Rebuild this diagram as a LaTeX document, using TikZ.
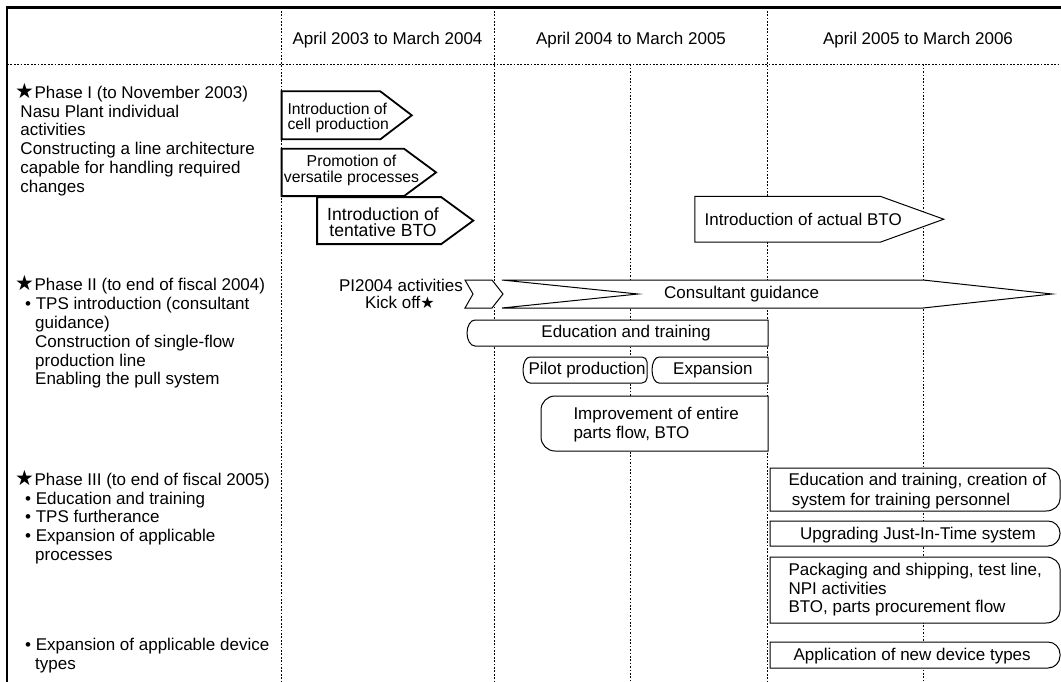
\documentclass[tikz,border=0pt]{standalone}
\usepackage{fontspec}
\setmainfont{Liberation Sans}
\newfontfamily\symfont{DejaVu Sans}
% black stars: large one for the phase headings, small one after "Kick off"
\newcommand\bstar{{\symfont\fontsize{21}{21}\selectfont ★}}
\newcommand\sstar{{\symfont\fontsize{16}{16}\selectfont ★}}
% first-line strut: fixes the distance from a block's top to its first baseline
\newcommand\fl{\rule{0pt}{14pt}}
\lineskiplimit=-100pt
\normallineskiplimit=-100pt

\tikzset{
  txt/.style={inner sep=0pt, text=black, font=\fontsize{17}{18.8}\selectfont},
  blk/.style={txt, align=left, anchor=north west},
  cblk/.style={txt, align=center, anchor=north},
  gridline/.style={line width=0.9pt, dash pattern=on 1.7pt off 1.7pt, black},
  framepen/.style={line width=2.6pt, line join=miter},
  heavybox/.style={draw, line width=1.8pt, fill=white, line join=miter},
  lightbox/.style={draw, line width=1pt, fill=white, line join=miter},
}

\begin{document}
\begin{tikzpicture}[x=1pt, y=-1pt]
\useasboundingbox (0,0) rectangle (1061,681);

% ---- table grid ----
\draw[gridline] (7,64.3) -- (1061,64.3);
\draw[gridline] (281.6,7.4) -- (281.6,681);
\draw[gridline] (494,7.4) -- (494,681);
\draw[gridline] (767,7.4) -- (767,681);
\draw[gridline] (630,64.3) -- (630,681);
\draw[gridline] (923.5,64.3) -- (923.5,681);
\draw[framepen] (1063,7.4) -- (7,7.4) -- (7,683);

% ---- column headings ----
\node[txt, anchor=base] (h1) at (387.5,44.5) {April 2003 to March 2004};
\node[txt, anchor=base] (h2) at (631,44.5) {April 2004 to March 2005};
\node[txt, anchor=base] (h3) at (918,44.5) {April 2005 to March 2006};

% ---- phase descriptions ----
\node[blk] (ph1) at (15,83) {\fl\bstar\kern0.5pt Phase I (to November 2003)\\
  \hspace*{5.3pt}Nasu Plant individual\\
  \hspace*{5.3pt}activities\\
  \hspace*{5.3pt}Constructing a line architecture\\
  \hspace*{5.3pt}capable for handling required\\
  \hspace*{5.3pt}changes};

\node[blk] (ph2) at (15,275.5) {\fl\bstar\kern0.5pt Phase II (to end of fiscal 2004)\\
  \hspace*{10pt}\textbullet\ TPS introduction (consultant\\
  \hspace*{20pt}guidance)\\
  \hspace*{20pt}Construction of single-flow\\
  \hspace*{20pt}production line\\
  \hspace*{20pt}Enabling the pull system};

\node[blk, font=\fontsize{17}{18.75}\selectfont] (ph3) at (15,470) {\fl\bstar\kern0.5pt Phase III (to end of fiscal 2005)\\
  \hspace*{10pt}\textbullet\ Education and training\\
  \hspace*{10pt}\textbullet\ TPS furtherance\\
  \hspace*{10pt}\textbullet\ Expansion of applicable\\
  \hspace*{20pt}processes};

\node[blk] (ph3d) at (15,636.5) {\fl\hspace*{10pt}\textbullet\ Expansion of applicable device\\
  \hspace*{20pt}types};

% ---- Phase I activities ----
\draw[heavybox] (281.6,91.3) -- (380.3,91.3) -- (411.8,115.3) -- (380.3,139.3) -- (281.6,139.3) -- cycle;
\node[blk, font=\fontsize{15.7}{15.2}\selectfont] (cell) at (287.4,100.3) {\fl Introduction of\\cell production};

\draw[heavybox] (281.6,148.7) -- (404,148.7) -- (436.1,172.4) -- (404,196.1) -- (281.6,196.1) -- cycle;
\node[cblk, font=\fontsize{15.8}{16.3}\selectfont] (versatile) at (351.5,152.3) {\fl Promotion of\\versatile processes};

\draw[heavybox] (317.1,197.1) -- (441.2,197.1) -- (473.3,220.6) -- (441.2,244.1) -- (317.1,244.1) -- cycle;
\node[cblk, font=\fontsize{17.6}{16.2}\selectfont] (tentative) at (383,206.4) {\fl Introduction of\\tentative BTO};

\draw[lightbox] (694.9,196.4) -- (880.5,196.4) -- (943.8,219.2) -- (880.5,242.1) -- (694.9,242.1) -- cycle;
\node[txt, anchor=base west] (actual) at (704.4,225) {Introduction of actual BTO};

% ---- Phase II activities ----
\node[txt, anchor=base east] (pi2004) at (463,291.7) {PI2004 activities};
\node[txt, anchor=base east] (kick) at (435,308.7) {Kick off\sstar};
\draw[lightbox] (465,280) -- (492,280) -- (503,294) -- (492,308) -- (465,308) -- (473,294) -- cycle;
\draw[lightbox] (502,280) -- (923,280) -- (1052,294) -- (923,308) -- (502,308) -- (638,294) -- cycle;
\node[txt, anchor=base west] (consult) at (664,298.7) {Consultant guidance};

\draw[lightbox] (768,320) -- (475,320) .. controls (470.6,320) and (467,325.8) .. (467,333)
  .. controls (467,340.2) and (470.6,346) .. (475,346) -- (768,346) -- cycle;
\node[txt, anchor=base] (edu2) at (626,337.4) {Education and training};

\draw[lightbox] (530,357) -- (642,357) .. controls (644.8,357) and (647,359.2) .. (647,362)
  -- (647,378) .. controls (647,380.8) and (644.8,383) .. (642,383) -- (530,383)
  .. controls (526.1,383) and (523,377.2) .. (523,370) .. controls (523,362.8) and (526.1,357) .. (530,357) -- cycle;
\node[txt, anchor=base west] (pilot) at (528.3,374.5) {Pilot production};

\draw[lightbox] (659,357) -- (768,357) -- (768,383) -- (659,383)
  .. controls (655.1,383) and (652,377.2) .. (652,370) .. controls (652,362.8) and (655.1,357) .. (659,357) -- cycle;
\node[txt, anchor=base west] (expand) at (673,374.5) {Expansion};

\draw[lightbox] (768,396) -- (555,396) .. controls (547.3,396) and (541,402.3) .. (541,410)
  -- (541,437) .. controls (541,444.7) and (547.3,451) .. (555,451) -- (768,451) -- cycle;
\node[blk, font=\fontsize{17}{19}\selectfont] (improve) at (573.3,405.3) {\fl Improvement of entire\\parts flow, BTO};

% ---- Phase III activities ----
\draw[lightbox] (770,468) -- (1046,468) .. controls (1053.7,468) and (1060,473.4) .. (1060,480)
  -- (1060,499) .. controls (1060,505.6) and (1053.7,511) .. (1046,511) -- (770,511) -- cycle;
\node[blk, font=\fontsize{17}{20}\selectfont] (p3a) at (788.3,471) {\fl Education and training, creation of\\
  \hspace*{3.4pt}system for training personnel};

\draw[lightbox] (770,521) -- (1048,521) .. controls (1054.6,521) and (1060,526.4) .. (1060,533)
  -- (1060,534) .. controls (1060,540.6) and (1054.6,546) .. (1048,546) -- (770,546) -- cycle;
\node[txt, anchor=base west] (p3b) at (800,539.7) {Upgrading Just-In-Time system};

\draw[lightbox] (770,557) -- (1046,557) .. controls (1053.7,557) and (1060,562.4) .. (1060,569)
  -- (1060,611) .. controls (1060,617.6) and (1053.7,623) .. (1046,623) -- (770,623) -- cycle;
\node[blk, font=\fontsize{17}{18.4}\selectfont] (p3c) at (788.3,561.7) {\fl Packaging and shipping, test line,\\
  NPI activities\\BTO, parts procurement flow};

\draw[lightbox] (770,642) -- (1048,642) .. controls (1054.6,642) and (1060,647.4) .. (1060,654)
  -- (1060,656) .. controls (1060,662.6) and (1054.6,668) .. (1048,668) -- (770,668) -- cycle;
\node[txt, anchor=base west] (p3d) at (793.3,660.7) {Application of new device types};
\end{tikzpicture}
\end{document}
